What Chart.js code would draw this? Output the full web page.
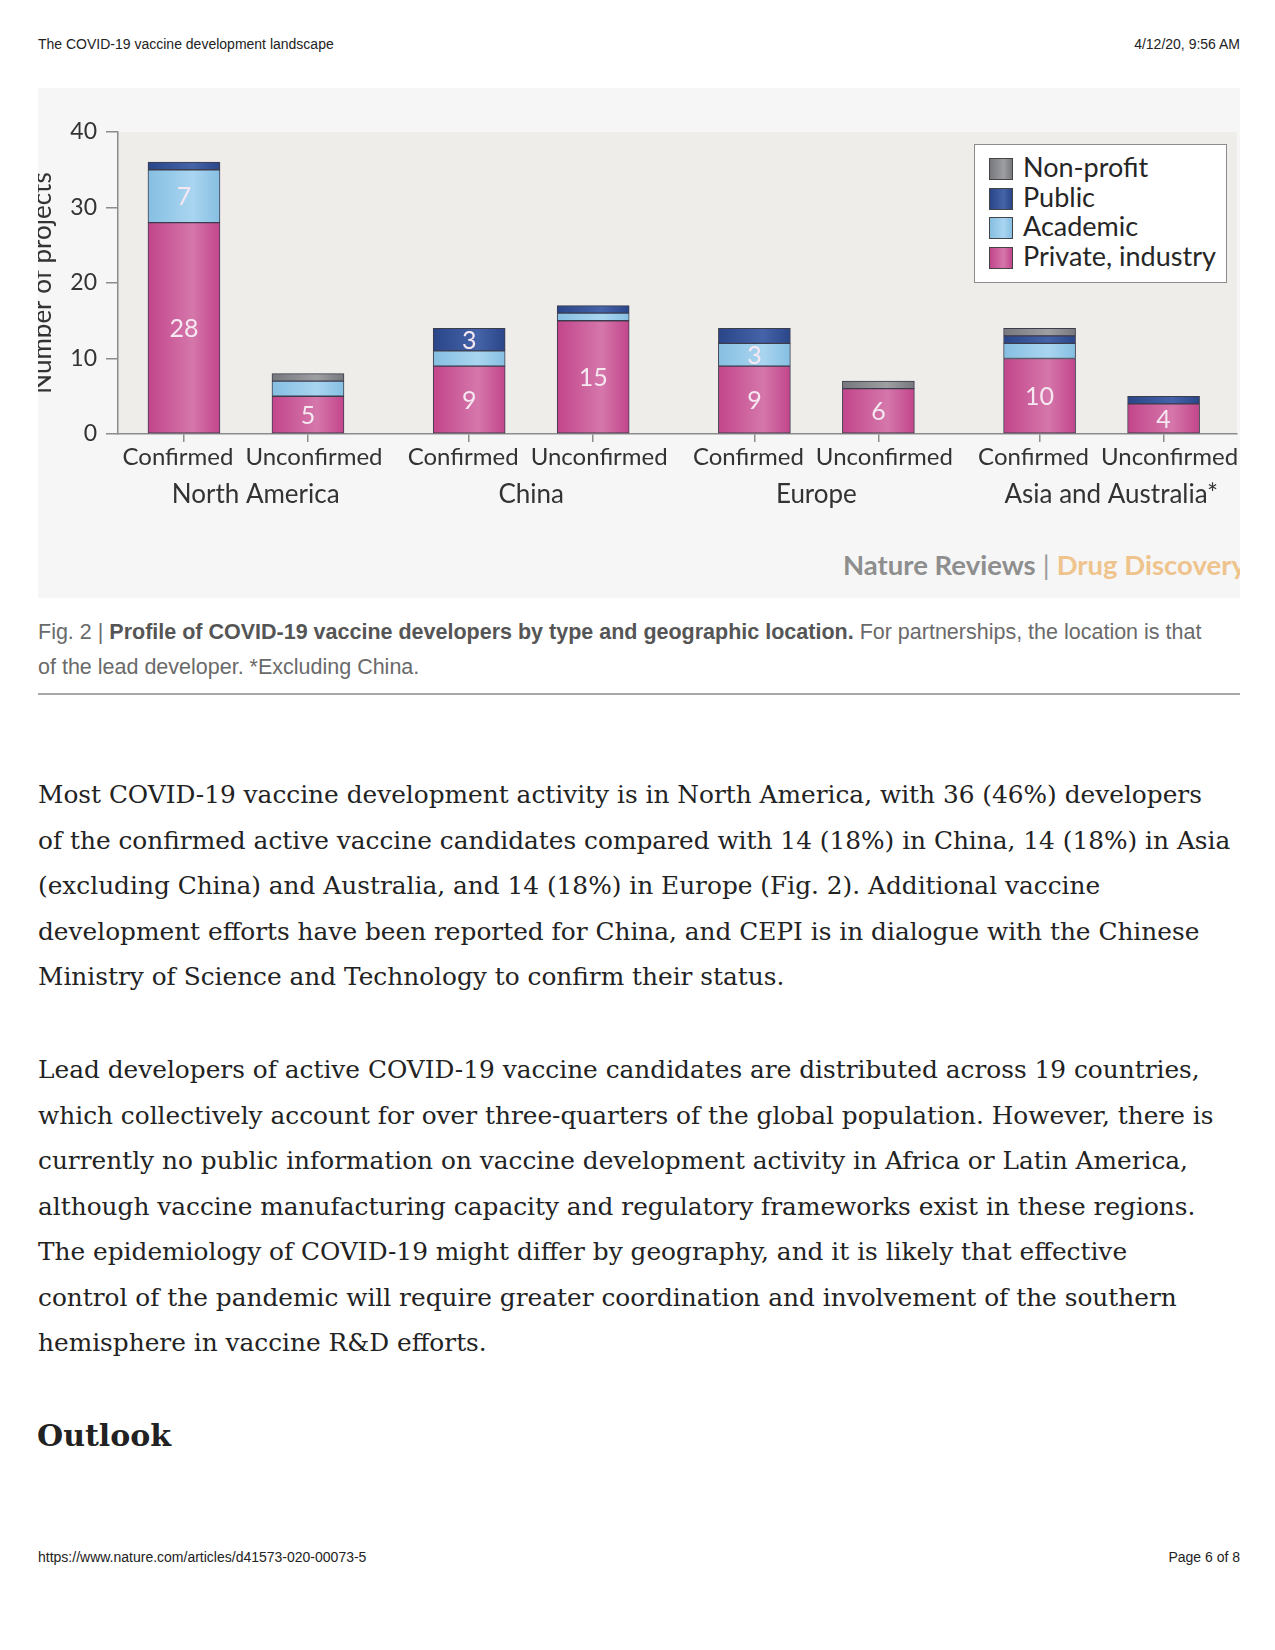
<!DOCTYPE html>
<html>
<head>
<meta charset="utf-8">
<script src="https://cdn.jsdelivr.net/npm/chart.js@4.4.1/dist/chart.umd.min.js"></script>
<style>
  html, body { margin: 0; padding: 0; background: #fff; }
  #page { position: relative; width: 1275px; height: 1650px; overflow: hidden; }
  .hdr { position: absolute; top: 36px; font: 14px "Liberation Sans", Arial, sans-serif; color: #222; }
  #figure { position: absolute; left: 38px; top: 88px; width: 1202px; height: 510px; background: #f6f6f6; overflow: hidden; }
  #chartBox { position: absolute; left: 0; top: 0; width: 1202px; height: 430px; }
  #legend { position: absolute; left: 936px; top: 56px; width: 251px; height: 137px; background: #fff; border: 1.5px solid #8c8c8c; font: 27px Lato, sans-serif; color: #262626; }
  .lg-row { position: absolute; left: 14px; height: 30px; line-height: 30px; white-space: nowrap; }
  .lg-sw { position: absolute; left: 0; top: 4px; width: 22px; height: 20px; border: 1px solid #444; }
  .lg-tx { position: absolute; left: 34px; top: -2px; }
  #mark { position: absolute; left: 805px; top: 460px; font: 700 27.5px Lato, sans-serif; white-space: nowrap; line-height: 34px; }
  #caption { position: absolute; left: 38px; top: 615px; width: 1230px; font: 21.5px "Liberation Sans", Arial, sans-serif; line-height: 35px; color: #6a6a6a; white-space: nowrap; }
  #caption b { color: #555; }
  #rule { position: absolute; left: 38px; top: 693px; width: 1202px; height: 2px; background: #a8a8a8; }
  .para { position: absolute; left: 38px; font: 24.8px "DejaVu Serif", serif; line-height: 45.5px; color: #222; white-space: nowrap; }
  #outlook { position: absolute; left: 37px; top: 1418px; font: bold 30px "DejaVu Serif", serif; color: #222; }
  .foot { position: absolute; top: 1549px; font: 14px "Liberation Sans", Arial, sans-serif; color: #222; }
</style>
</head>
<body>
<div id="page">
  <div class="hdr" style="left:38px">The COVID-19 vaccine development landscape</div>
  <div class="hdr" style="right:35px">4/12/20, 9:56 AM</div>

  <div id="figure">
    <div id="chartBox"><canvas id="devChart"></canvas></div>
    <div id="legend"></div>
    <div id="mark"><span style="color:#8e8e8e">Nature Reviews</span><span style="color:#9a9a9a;font-weight:400"> | </span><span style="color:#efc48c">Drug Discovery</span></div>
  </div>

  <div id="caption">Fig. 2 | <b>Profile of COVID-19 vaccine developers by type and geographic location.</b> For partnerships, the location is that<br>of the lead developer. *Excluding China.</div>
  <div id="rule"></div>

  <div class="para" style="top:772px">Most COVID-19 vaccine development activity is in North America, with 36 (46%) developers<br>of the confirmed active vaccine candidates compared with 14 (18%) in China, 14 (18%) in Asia<br>(excluding China) and Australia, and 14 (18%) in Europe (Fig. 2). Additional vaccine<br>development efforts have been reported for China, and CEPI is in dialogue with the Chinese<br>Ministry of Science and Technology to confirm their status.</div>

  <div class="para" style="top:1047px">Lead developers of active COVID-19 vaccine candidates are distributed across 19 countries,<br>which collectively account for over three-quarters of the global population. However, there is<br>currently no public information on vaccine development activity in Africa or Latin America,<br>although vaccine manufacturing capacity and regulatory frameworks exist in these regions.<br>The epidemiology of COVID-19 might differ by geography, and it is likely that effective<br>control of the pandemic will require greater coordination and involvement of the southern<br>hemisphere in vaccine R&amp;D efforts.</div>

  <div id="outlook">Outlook</div>

  <div class="foot" style="left:38px">https://www.nature.com/articles/d41573-020-00073-5</div>
  <div class="foot" style="right:35px">Page 6 of 8</div>
</div>

<script>
// bars, left to right
const statusLabels = ['Confirmed', 'Unconfirmed', 'Confirmed', 'Unconfirmed',
                      'Confirmed', 'Unconfirmed', 'Confirmed', 'Unconfirmed'];
const regionLabels = ['North America', 'China', 'Europe', 'Asia and Australia*'];

// number of projects per developer type
const privateIndustry = [28, 5, 9, 15, 9, 6, 10, 4];
const academic        = [7, 2, 2, 1, 3, 0, 2, 0];
const publicSector    = [1, 0, 3, 1, 2, 0, 1, 1];
const nonProfit       = [0, 1, 0, 0, 0, 1, 1, 0];

const yTicks = [0, 10, 20, 30, 40];

// group layout on the x axis (two bars per region, wider gap between regions)
const groupStride = 2.3;
const barPos = statusLabels.map((s, i) => Math.floor(i / 2) * groupStride + (i % 2));
const regionPos = regionLabels.map((r, g) => g * groupStride + 0.5);

const axisGrey = '#8c8c8c';
const chartFont = 'Lato';

function shaded(base, light) {
    return function (ctx) {
        if (ctx.type !== 'data' || !ctx.chart.scales.x) return base;
        const cx = ctx.chart.scales.x.getPixelForValue(ctx.raw.x);
        if (!isFinite(cx)) return base;
        const g = ctx.chart.ctx.createLinearGradient(cx - 36, 0, cx + 36, 0);
        g.addColorStop(0, base);
        g.addColorStop(0.62, light);
        g.addColorStop(1, base);
        return g;
    };
}

function points(values) {
    let out = [];
    for (let i in values) {
        if (values[i] > 0) out.push({ x: barPos[i], y: values[i] });
    }
    return out;
}

// the two labels of a pair sit a little apart from each other
function statusText(index) {
    return index % 2 === 0 ? statusLabels[index] + '\u2002' : '\u2002' + statusLabels[index];
}

// outer region names sit a little off-centre in the original
function regionText(index) {
    if (index === 0 || index === regionLabels.length - 1) return '\u2003' + regionLabels[index];
    return regionLabels[index];
}

const series = [
    { label: 'Private, industry', values: privateIndustry, color: '#c2458b', light: '#d577ab' },
    { label: 'Academic', values: academic, color: '#86bfe2', light: '#a9d5f0' },
    { label: 'Public', values: publicSector, color: '#2a4689', light: '#4563a8' },
    { label: 'Non-profit', values: nonProfit, color: '#76787d', light: '#9d9fa3' }
];

const plotBackground = {
    id: 'plotBackground',
    beforeDraw(chart) {
        const a = chart.chartArea;
        chart.ctx.save();
        chart.ctx.fillStyle = '#eeedea';
        chart.ctx.fillRect(a.left, a.top, a.right - a.left, a.bottom - a.top);
        chart.ctx.restore();
    }
};

const segmentValues = {
    id: 'segmentValues',
    afterDatasetsDraw(chart) {
        const ctx = chart.ctx;
        ctx.save();
        ctx.font = '25px ' + chartFont;
        ctx.fillStyle = '#f6e8f1';
        ctx.textAlign = 'center';
        ctx.textBaseline = 'middle';
        chart.data.datasets.forEach((ds, di) => {
            const meta = chart.getDatasetMeta(di);
            meta.data.forEach((bar, i) => {
                const v = ds.data[i].y;
                if (v >= 3) ctx.fillText(String(v), bar.x, (bar.y + bar.base) / 2 + 1);
            });
        });
        ctx.restore();
    }
};

const chart = new Chart(document.getElementById('devChart'), {
    type: 'bar',
    data: {
        datasets: series.map(s => ({
            label: s.label,
            data: points(s.values),
            backgroundColor: shaded(s.color, s.light),
            borderColor: '#3c3c4c',
            borderWidth: 1,
            borderSkipped: false,
            barThickness: 72
        }))
    },
    options: {
        responsive: true,
        maintainAspectRatio: false,
        animation: false,
        layout: { padding: { top: 44, right: 3, left: 0, bottom: 0 } },
        plugins: {
            legend: { display: false },
            tooltip: { enabled: false }
        },
        scales: {
            x: {
                type: 'linear',
                stacked: true,
                offset: false,
                min: -0.532,
                max: 8.492,
                weight: 0,
                afterBuildTicks: (scale) => { scale.ticks = barPos.map(v => ({ value: v })); },
                afterFit: (scale) => { scale.height = 37; },
                ticks: {
                    autoSkip: false,
                    maxRotation: 0,
                    padding: 1,
                    color: '#333',
                    font: { family: chartFont, size: 24 },
                    callback: (value, index) => statusText(index)
                },
                grid: { offset: false, drawOnChartArea: false, drawTicks: true, tickLength: 8, color: axisGrey, lineWidth: 1.5 },
                border: { color: axisGrey, width: 1.5 }
            },
            x2: {
                type: 'linear',
                position: 'bottom',
                offset: false,
                min: -0.532,
                max: 8.492,
                weight: 1,
                afterBuildTicks: (scale) => { scale.ticks = regionPos.map(v => ({ value: v })); },
                afterFit: (scale) => { scale.height = 47; },
                ticks: {
                    autoSkip: false,
                    maxRotation: 0,
                    padding: 0,
                    color: '#333',
                    font: { family: chartFont, size: 26 },
                    callback: (value, index) => regionText(index)
                },
                grid: { offset: false, display: false },
                border: { display: false }
            },
            y: {
                stacked: true,
                min: 0,
                max: 40,
                afterBuildTicks: (scale) => { scale.ticks = yTicks.map(v => ({ value: v })); },
                afterFit: (scale) => { scale.width = 80; },
                ticks: {
                    padding: 9,
                    color: '#333',
                    font: { family: chartFont, size: 23 }
                },
                grid: { drawOnChartArea: false, drawTicks: true, tickLength: 12, color: axisGrey, lineWidth: 1.5 },
                border: { color: axisGrey, width: 1.5 },
                title: {
                    display: true,
                    text: 'Number of projects',
                    color: '#333',
                    font: { family: chartFont, size: 26 },
                    padding: { top: -11, bottom: 0 }
                }
            }
        }
    },
    plugins: [plotBackground, segmentValues]
});

// legend box, top series first
const legendBox = document.getElementById('legend');
series.slice().reverse().forEach((s, i) => {
    const row = document.createElement('div');
    row.className = 'lg-row';
    row.style.top = (9 + i * 29.7) + 'px';
    row.innerHTML = '<span class="lg-sw" style="background:linear-gradient(90deg,' + s.color + ',' + s.light + ' 62%,' + s.color + ')"></span>' +
                    '<span class="lg-tx">' + s.label + '</span>';
    legendBox.appendChild(row);
});
</script>
</body>
</html>
